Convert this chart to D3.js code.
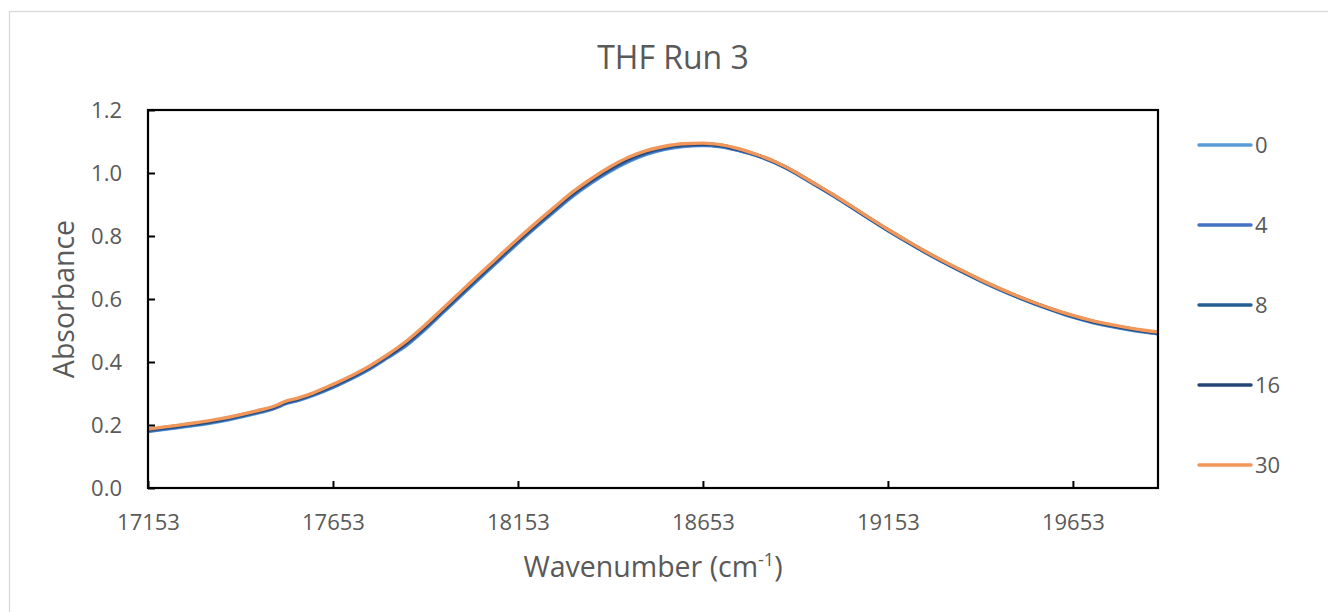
<!DOCTYPE html>
<html>
<head>
<meta charset="utf-8">
<script src="https://cdn.jsdelivr.net/npm/d3@7"></script>
<style>
  html, body { margin: 0; padding: 0; background: #fff; }
  svg { display: block; }
  text { font-family: "Open Sans", "Noto Sans", sans-serif; fill: #595959; }
</style>
</head>
<body>
<svg id="chart" width="1328" height="612"></svg>
<script>
// Wavenumbers (cm-1) shared by every run
const wavenumbers = [17153,17250,17350,17450,17490,17505,17520,17560,17600,17653,17700,17750,17800,17850,17900,17950,18000,18050,18100,18150,18200,18250,18300,18350,18400,18450,18500,18550,18600,18653,18700,18750,18800,18850,18900,18950,19000,19050,19100,19150,19200,19250,19300,19350,19400,19450,19500,19550,19600,19650,19700,19750,19800,19850,19883];

// Absorbance per run
const run0  = [0.179,0.194,0.212,0.238,0.250,0.257,0.265,0.278,0.294,0.319,0.345,0.376,0.413,0.451,0.501,0.556,0.611,0.666,0.720,0.774,0.826,0.876,0.925,0.967,1.004,1.035,1.059,1.075,1.084,1.087,1.083,1.071,1.054,1.031,1.001,0.966,0.931,0.894,0.856,0.819,0.784,0.750,0.718,0.688,0.659,0.632,0.607,0.584,0.563,0.543,0.527,0.514,0.503,0.494,0.489];
const run4  = [0.181,0.196,0.214,0.240,0.252,0.259,0.267,0.280,0.296,0.321,0.347,0.378,0.415,0.454,0.504,0.559,0.614,0.669,0.723,0.777,0.829,0.879,0.928,0.970,1.007,1.038,1.062,1.077,1.086,1.089,1.085,1.072,1.055,1.032,1.002,0.967,0.932,0.895,0.857,0.820,0.785,0.751,0.719,0.689,0.660,0.633,0.608,0.585,0.564,0.545,0.529,0.516,0.505,0.496,0.491];
const run8  = [0.183,0.198,0.216,0.242,0.254,0.261,0.269,0.282,0.298,0.324,0.350,0.381,0.418,0.458,0.508,0.563,0.618,0.673,0.727,0.781,0.833,0.883,0.932,0.974,1.011,1.042,1.065,1.080,1.088,1.091,1.087,1.074,1.056,1.033,1.003,0.968,0.933,0.896,0.858,0.821,0.786,0.752,0.720,0.690,0.661,0.634,0.609,0.586,0.565,0.546,0.530,0.517,0.506,0.497,0.492];
const run16 = [0.185,0.200,0.218,0.244,0.256,0.263,0.271,0.284,0.300,0.326,0.352,0.383,0.420,0.461,0.511,0.566,0.621,0.676,0.730,0.784,0.836,0.886,0.935,0.977,1.014,1.045,1.068,1.082,1.090,1.092,1.088,1.075,1.057,1.034,1.004,0.969,0.934,0.897,0.859,0.822,0.787,0.753,0.721,0.691,0.662,0.635,0.610,0.587,0.566,0.547,0.531,0.518,0.507,0.498,0.493];
const run30 = [0.187,0.202,0.220,0.246,0.258,0.265,0.273,0.286,0.302,0.329,0.355,0.386,0.423,0.465,0.515,0.570,0.625,0.680,0.734,0.788,0.840,0.890,0.939,0.981,1.018,1.049,1.071,1.085,1.093,1.095,1.090,1.077,1.058,1.035,1.005,0.970,0.935,0.898,0.860,0.823,0.788,0.754,0.722,0.692,0.663,0.636,0.611,0.588,0.567,0.549,0.533,0.520,0.509,0.500,0.495];

const seriesNames  = ["0", "4", "8", "16", "30"];
const seriesValues = [run0, run4, run8, run16, run30];
const seriesColors = ["#5B9BD5", "#4472C4", "#255E91", "#264478", "#F1975A"];

const xTicks = [17153, 17653, 18153, 18653, 19153, 19653];
const yTicks = [0.0, 0.2, 0.4, 0.6, 0.8, 1.0, 1.2];

const svg = d3.select("#chart");

// outer chart frame
svg.append("rect")
  .attr("x", 9.5).attr("y", 11.5)
  .attr("width", 1340).attr("height", 620)
  .attr("fill", "#fff").attr("stroke", "#D9D9D9").attr("stroke-width", 1.3);

const plot = { left: 148, right: 1158, top: 110, bottom: 488 };

const x = d3.scaleLinear().domain([17153, 19883]).range([plot.left, plot.right]);
const y = d3.scaleLinear().domain([0, 1.2]).range([plot.bottom, plot.top]);

// title
svg.append("text")
  .attr("x", 673).attr("y", 69)
  .attr("text-anchor", "middle")
  .style("font-size", "32px")
  .text("THF Run 3");

// series lines
const line = d3.line()
  .x((d, i) => x(wavenumbers[i]))
  .y(d => y(d))
  .curve(d3.curveMonotoneX);

const defs = svg.append("defs");
defs.append("clipPath").attr("id", "plotClip")
  .append("rect")
  .attr("x", plot.left).attr("y", plot.top)
  .attr("width", plot.right - plot.left).attr("height", plot.bottom - plot.top);

const lines = svg.append("g").attr("clip-path", "url(#plotClip)");
seriesValues.forEach((vals, k) => {
  lines.append("path")
    .datum(vals)
    .attr("d", line)
    .attr("fill", "none")
    .attr("stroke", seriesColors[k])
    .attr("stroke-width", 3.4)
    .attr("stroke-linejoin", "round")
    .attr("stroke-linecap", "round");
});

// axes with inward ticks
const xAxis = d3.axisBottom(x).tickValues(xTicks).tickSize(-7).tickPadding(26).tickFormat(d3.format("d"));
const yAxis = d3.axisLeft(y).tickValues(yTicks).tickSize(-7).tickPadding(26).tickFormat(d3.format(".1f"));

const gx = svg.append("g").attr("transform", `translate(0,${plot.bottom})`).call(xAxis);
const gy = svg.append("g").attr("transform", `translate(${plot.left},0)`).call(yAxis);
[gx, gy].forEach(g => {
  g.select(".domain").remove();
  g.selectAll(".tick line").attr("stroke", "#000").attr("stroke-width", 2);
  g.selectAll(".tick text").style("font-size", "22px").attr("fill", "#595959")
    .style("font-family", "'Open Sans', sans-serif");
});
gx.selectAll(".tick text").attr("dy", "0.71em");

// plot border
svg.append("rect")
  .attr("x", plot.left).attr("y", plot.top)
  .attr("width", plot.right - plot.left).attr("height", plot.bottom - plot.top)
  .attr("fill", "none").attr("stroke", "#000").attr("stroke-width", 2.2);

// axis titles
const xt = svg.append("text")
  .attr("x", 653).attr("y", 577)
  .attr("text-anchor", "middle")
  .style("font-size", "28.5px");
xt.append("tspan").text("Wavenumber (cm");
xt.append("tspan").attr("dy", -11).style("font-size", "18px").text("-1");
xt.append("tspan").attr("dy", 11).text(")");

svg.append("text")
  .attr("transform", `translate(74,${(plot.top + plot.bottom) / 2}) rotate(-90)`)
  .attr("text-anchor", "middle")
  .style("font-size", "28.5px")
  .text("Absorbance");

// legend
const legend = svg.append("g");
seriesNames.forEach((name, k) => {
  const ly = 145 + k * 80;
  legend.append("line")
    .attr("x1", 1199).attr("x2", 1251)
    .attr("y1", ly).attr("y2", ly)
    .attr("stroke", seriesColors[k]).attr("stroke-width", 3.4)
    .attr("stroke-linecap", "round");
  legend.append("text")
    .attr("x", 1255).attr("y", ly)
    .attr("dy", "0.35em")
    .style("font-size", "22px")
    .text(name);
});
</script>
</body>
</html>
